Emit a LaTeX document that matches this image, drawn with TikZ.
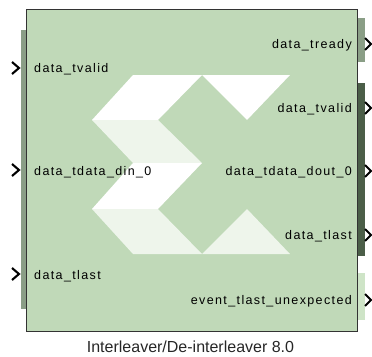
\documentclass[tikz,border=0pt]{standalone}
\usepackage{fontspec}
\usetikzlibrary{calc}
\setmainfont{Liberation Sans}
\newfontfamily\lblfont[LetterSpace=11]{Liberation Sans}
\definecolor{blkgreen}{RGB}{192,217,184}
\definecolor{palegreen}{RGB}{238,245,235}
\definecolor{bargray}{RGB}{138,158,134}
\definecolor{bardark}{RGB}{75,94,72}
\definecolor{barlight}{RGB}{206,228,199}
\begin{document}
\begin{tikzpicture}[x=1pt,y=-1pt,
  blockbox/.style={draw=black!80,line width=0.9pt,fill=blkgreen},
  portarrow/.style={draw=black,line width=2.1pt,miter limit=10},
  inlbl/.style={font=\lblfont\fontsize{12.5}{14}\selectfont,anchor=base west,inner sep=0pt,text=black},
  outlbl/.style={font=\lblfont\fontsize{12.5}{14}\selectfont,anchor=base east,inner sep=0pt,text=black},
  titlelbl/.style={font=\fontsize{16}{18}\selectfont,anchor=base,inner sep=0pt,text=black!85}]
\useasboundingbox (0,0) rectangle (372,356);
% port bars
\fill[bargray] (20.5,30) rectangle (26.5,309);
\fill[bargray] (357,18) rectangle (364.5,62);
\fill[bardark] (357,83) rectangle (364.5,256);
\fill[barlight] (357,273) rectangle (364.5,320);
% block
\node[blockbox,minimum width=331pt,minimum height=322pt,inner sep=0pt] (blk) at (191.5,170) {};
% logo
\fill[white] (133,75) -- (202,75) -- (158,120) -- (92,120) -- cycle;
\fill[palegreen] (92,120) -- (158,120) -- (202,163) -- (133,163) -- cycle;
\fill[white] (133,163) -- (202,163) -- (158,209) -- (92,209) -- cycle;
\fill[palegreen] (92,209) -- (158,209) -- (202,254) -- (133,254) -- cycle;
\fill[white] (202,75) -- (290,75) -- (247,120) -- cycle;
\fill[palegreen] (202,254) -- (247,209) -- (290,254) -- cycle;
% left ports
\coordinate (pin1) at (19,68);
\coordinate (pin2) at (19,170);
\coordinate (pin3) at (19,274);
\foreach \p in {pin1,pin2,pin3}
  \draw[portarrow] ($(\p)+(-7,-6)$) -- (\p) -- ($(\p)+(-7,6)$);
\node[inlbl] (l1) at (34,72) {data\_tvalid};
\node[inlbl] (l2) at (34,175) {data\_tdata\_din\_0};
\node[inlbl] (l3) at (34,279) {data\_tlast};
% right ports
\coordinate (pout1) at (371,44);
\coordinate (pout2) at (371,108);
\coordinate (pout3) at (371,171);
\coordinate (pout4) at (371,235);
\coordinate (pout5) at (371,300);
\foreach \p in {pout1,pout2,pout3,pout4,pout5}
  \draw[portarrow] ($(\p)+(-6,-6)$) -- (\p) -- ($(\p)+(-6,6)$);
\node[outlbl] (r1) at (352,48) {data\_tready};
\node[outlbl] (r2) at (352,112) {data\_tvalid};
\node[outlbl] (r3) at (352,175) {data\_tdata\_dout\_0};
\node[outlbl] (r4) at (352,239) {data\_tlast};
\node[outlbl] (r5) at (352,304) {event\_tlast\_unexpected};
% title
\node[titlelbl] (title) at (190.5,352.5) {Interleaver/De-interleaver 8.0};
\end{tikzpicture}
\end{document}
